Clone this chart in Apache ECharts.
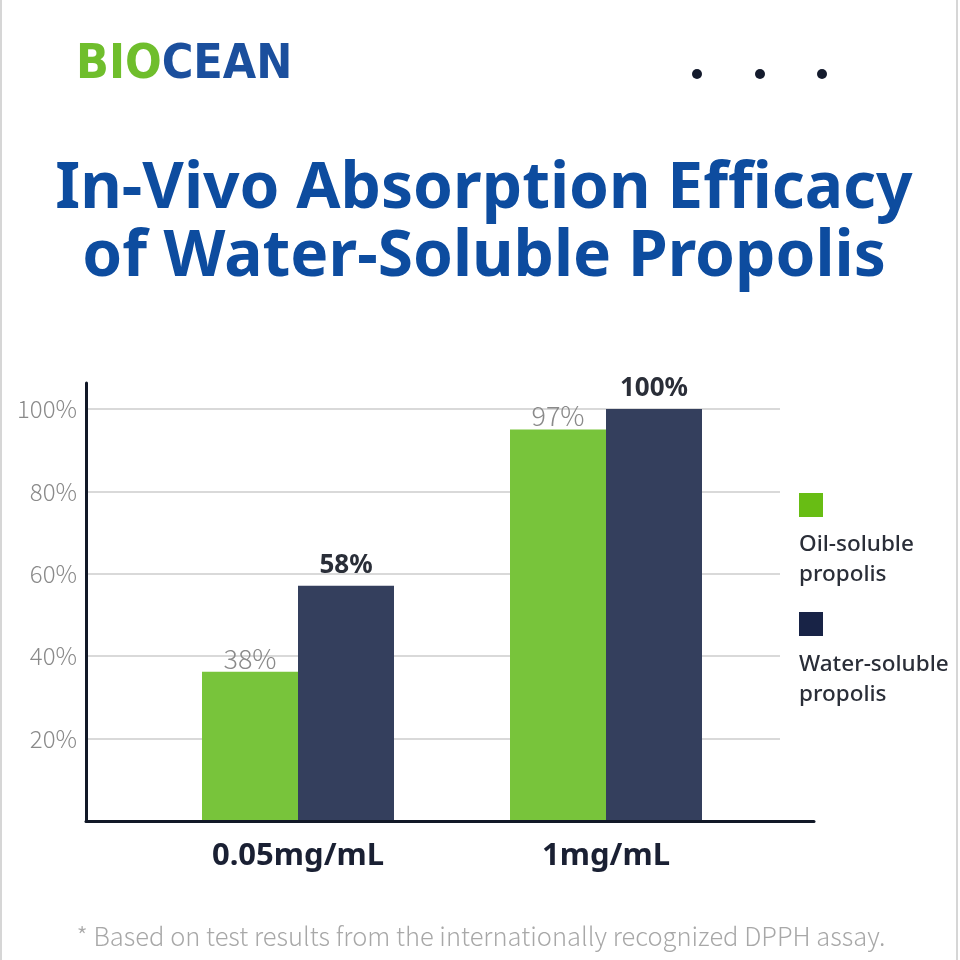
<!DOCTYPE html>
<html>
<head>
<meta charset="utf-8">
<script src="https://cdn.jsdelivr.net/npm/echarts@6/dist/echarts.min.js"></script>
<style>html,body{margin:0;padding:0;background:#fff}#c{width:960px;height:960px}</style>
</head>
<body>
<div id="c"></div>
<script>
const categories = ['0.05mg/mL', '1mg/mL'];
const seriesNames = ['Oil-soluble propolis', 'Water-soluble propolis'];
const oilValues = [36.2, 95.0];
const waterValues = [57.1, 100.0];
const oilLabels = ['38%', '97%'];
const waterLabels = ['58%', '100%'];
const yTicks = [20, 40, 60, 80, 100];

const chart = echarts.init(document.getElementById('c'), null, {renderer: 'canvas'});
const GREEN = '#78c43b', NAVY = '#343f5d';
const option = {
  backgroundColor: '#ffffff',
  animation: false,
  title: [
    {
      text: '{g|BIO}{b|CEAN}', left: 71, top: 37,
      textStyle: { rich: {
        g: { fontSize: 48, fontWeight: 'bold', color: '#6fbe2c', fontFamily: 'DejaVu Sans Condensed' },
        b: { fontSize: 48, fontWeight: 'bold', color: '#1b4f9d', fontFamily: 'DejaVu Sans Condensed' }
      } }
    },
    {
      text: 'In-Vivo Absorption Efficacy\nof Water-Soluble Propolis', left: 479, top: 151,
      textAlign: 'center',
      textStyle: { fontSize: 64, fontWeight: 'bold', color: '#0d4c9f', fontFamily: 'Noto Sans', lineHeight: 68, align: 'center' }
    },
    {
      text: '* Based on test results from the internationally recognized DPPH assay.', left: 476, top: 919,
      textAlign: 'center',
      textStyle: { fontSize: 25.5, fontWeight: 300, color: '#a8a8a8', fontFamily: 'Noto Sans CJK KR' }
    }
  ],
  legend: {
    orient: 'vertical', left: 799, top: 493, padding: 0, itemWidth: 24, itemHeight: 24, itemGap: 95,
    icon: 'rect', formatter: () => '',
    data: [
      { name: seriesNames[0], itemStyle: { color: '#68bd14' } },
      { name: seriesNames[1], itemStyle: { color: '#182346' } }
    ]
  },
  grid: [
    { left: 86, right: 146, top: 383, bottom: 139 },
    { left: 86, right: 180, top: 409, bottom: 139 },
    { left: 144, right: 200, top: 409, bottom: 139 }
  ],
  xAxis: [
    { gridIndex: 0, type: 'category', data: categories, z: 5,
      axisLine: { show: true, lineStyle: { color: '#111827', width: 3 } },
      axisTick: { show: false }, axisLabel: { show: false }, splitLine: { show: false } },
    { gridIndex: 1, type: 'category', data: categories, show: false },
    { gridIndex: 2, type: 'category', data: categories,
      axisLine: { show: false }, axisTick: { show: false },
      axisLabel: { margin: 20, fontSize: 31, fontWeight: 'bold', color: '#1a2033', fontFamily: 'Noto Sans' } }
  ],
  yAxis: [
    { gridIndex: 0, type: 'value', min: 0, max: 106.3, z: 5,
      axisLine: { show: true, lineStyle: { color: '#111827', width: 3 } },
      axisTick: { show: false }, axisLabel: { show: false }, splitLine: { show: false } },
    { gridIndex: 1, type: 'value', min: 0, max: 100, interval: 20,
      axisLine: { show: false }, axisTick: { show: false },
      axisLabel: { margin: 9, fontSize: 24, fontWeight: 300, color: '#8a8a8a', fontFamily: 'Noto Sans CJK KR',
        formatter: v => yTicks.indexOf(v) >= 0 ? v + '%' : '' },
      splitLine: { show: true, lineStyle: { color: '#cccccc', width: 1.5 } } },
    { gridIndex: 2, type: 'value', min: 0, max: 100, show: false }
  ],
  series: [
    { name: seriesNames[0], type: 'bar', xAxisIndex: 2, yAxisIndex: 2, data: oilValues,
      barWidth: 96, barGap: '0%', itemStyle: { color: GREEN },
      label: { show: true, position: 'top', distance: 0, fontSize: 27, fontWeight: 300, color: '#8a8a8a',
        fontFamily: 'Noto Sans CJK KR', formatter: p => oilLabels[p.dataIndex] } },
    { name: seriesNames[1], type: 'bar', xAxisIndex: 2, yAxisIndex: 2, data: waterValues,
      barWidth: 96, barGap: '0%', itemStyle: { color: NAVY },
      label: { show: true, position: 'top', distance: 7, fontSize: 26, fontWeight: 'bold', color: '#2a2e38',
        fontFamily: 'Noto Sans', formatter: p => waterLabels[p.dataIndex] } }
  ],
  graphic: [
    { type: 'rect', shape: { x: 1, y: -2, width: 956, height: 964 }, style: { fill: 'none', stroke: '#d6d6d6', lineWidth: 2 }, silent: true },
    { type: 'circle', shape: { cx: 697, cy: 74, r: 5 }, style: { fill: '#141b2d' } },
    { type: 'circle', shape: { cx: 760, cy: 74, r: 5 }, style: { fill: '#141b2d' } },
    { type: 'circle', shape: { cx: 822, cy: 74, r: 5 }, style: { fill: '#141b2d' } },
    { type: 'text', left: 799, top: 530, style: { text: 'Oil-soluble\npropolis', fontSize: 22.5, fontWeight: 500, lineHeight: 30, fill: '#2a2e38', fontFamily: 'Noto Sans' } },
    { type: 'text', left: 799, top: 650, style: { text: 'Water-soluble\npropolis', fontSize: 22.5, fontWeight: 500, lineHeight: 30, fill: '#2a2e38', fontFamily: 'Noto Sans' } }
  ]
};
chart.setOption(option);
</script>
</body>
</html>
